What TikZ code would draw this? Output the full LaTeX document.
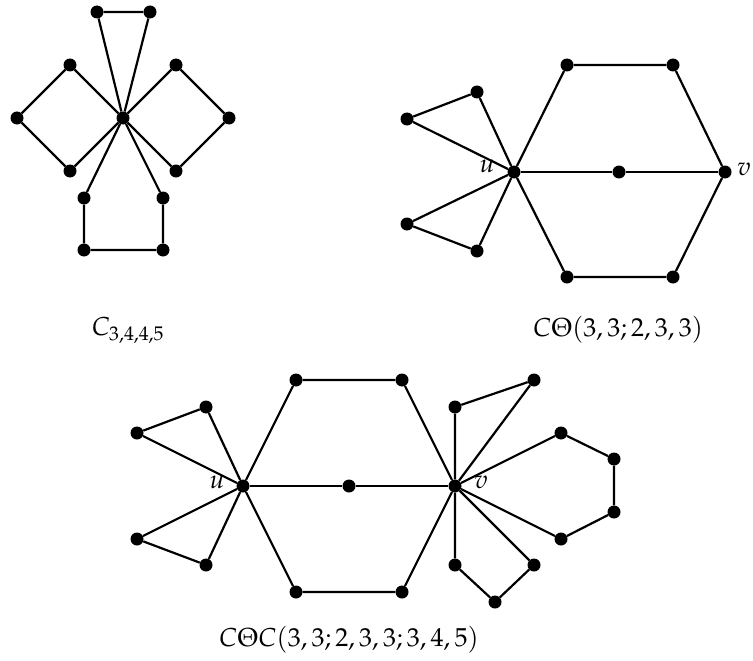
\documentclass[tikz,border=0pt]{standalone}
\usepackage{mathpazo}
\begin{document}
\begin{tikzpicture}[x=1pt,y=-1pt,
  dot/.style={circle,fill=black,inner sep=0pt,minimum size=13pt},
  edge/.style={line width=2.2pt},
  lbl/.style={font=\fontsize{26}{30}\selectfont,inner sep=0pt},
  vlbl/.style={font=\fontsize{26}{30}\selectfont,inner sep=0pt}]
\useasboundingbox (0,0) rectangle (753,661);
% Graph 1
\node[dot] (c) at (123,118) {};
\node[dot] (t1) at (97,12) {};
\node[dot] (t2) at (150,12) {};
\node[dot] (l1) at (70,65) {};
\node[dot] (l2) at (17,118) {};
\node[dot] (l3) at (70,171) {};
\node[dot] (r1) at (176,65) {};
\node[dot] (r2) at (229,118) {};
\node[dot] (r3) at (176,171) {};
\node[dot] (p1) at (84,198) {};
\node[dot] (p2) at (84,250) {};
\node[dot] (p3) at (163,250) {};
\node[dot] (p4) at (163,198) {};
\draw[edge] (c) -- (t1) -- (t2) -- (c);
\draw[edge] (c) -- (l1) -- (l2) -- (l3) -- (c);
\draw[edge] (c) -- (r1) -- (r2) -- (r3) -- (c);
\draw[edge] (c) -- (p1) -- (p2) -- (p3) -- (p4) -- (c);
\node[lbl] (cap1) at (128,330) {$C_{3,4,4,5}$};
% Graph 2
\node[dot] (u) at (514,172) {};
\node[dot] (a1) at (477,92) {};
\node[dot] (a2) at (407,119) {};
\node[dot] (b1) at (407,224) {};
\node[dot] (b2) at (477,251) {};
\node[dot] (h1) at (567,65) {};
\node[dot] (h2) at (673,65) {};
\node[dot] (v) at (725,172) {};
\node[dot] (m) at (619,172) {};
\node[dot] (h3) at (567,277) {};
\node[dot] (h4) at (673,277) {};
\draw[edge] (u) -- (a1) -- (a2) -- (u);
\draw[edge] (u) -- (b1) -- (b2) -- (u);
\draw[edge] (u) -- (h1) -- (h2) -- (v);
\draw[edge] (u) -- (m) -- (v);
\draw[edge] (u) -- (h3) -- (h4) -- (v);
\node[vlbl] (ul) at (487,166) {$u$};
\node[vlbl] (vl) at (744,169) {$v$};
\node[lbl] (cap2) at (618,330) {$C\Theta(3,3;2,3,3)$};
% Graph 3
\node[dot] (U) at (243,486) {};
\node[dot] (A1) at (206,407) {};
\node[dot] (A2) at (137,433) {};
\node[dot] (B1) at (137,539) {};
\node[dot] (B2) at (206,565) {};
\node[dot] (H1) at (296,380) {};
\node[dot] (H2) at (402,380) {};
\node[dot] (M) at (349,486) {};
\node[dot] (V) at (455,486) {};
\node[dot] (H3) at (296,592) {};
\node[dot] (H4) at (402,592) {};
\node[dot] (T1) at (455,407) {};
\node[dot] (T2) at (534,380) {};
\node[dot] (P1) at (561,433) {};
\node[dot] (P2) at (614,459) {};
\node[dot] (P3) at (614,512) {};
\node[dot] (P4) at (561,539) {};
\node[dot] (S1) at (455,565) {};
\node[dot] (S2) at (495,602) {};
\node[dot] (S3) at (534,565) {};
\draw[edge] (U) -- (A1) -- (A2) -- (U);
\draw[edge] (U) -- (B1) -- (B2) -- (U);
\draw[edge] (U) -- (H1) -- (H2) -- (V);
\draw[edge] (U) -- (M) -- (V);
\draw[edge] (U) -- (H3) -- (H4) -- (V);
\draw[edge] (V) -- (T1) -- (T2) -- (V);
\draw[edge] (V) -- (P1) -- (P2) -- (P3) -- (P4) -- (V);
\draw[edge] (V) -- (S1) -- (S2) -- (S3) -- (V);
\node[vlbl] (Ul) at (217,482) {$u$};
\node[vlbl] (Vl) at (481,482) {$v$};
\node[lbl] (cap3) at (349,640) {$C\Theta C(3,3;2,3,3;3,4,5)$};
\end{tikzpicture}
\end{document}
